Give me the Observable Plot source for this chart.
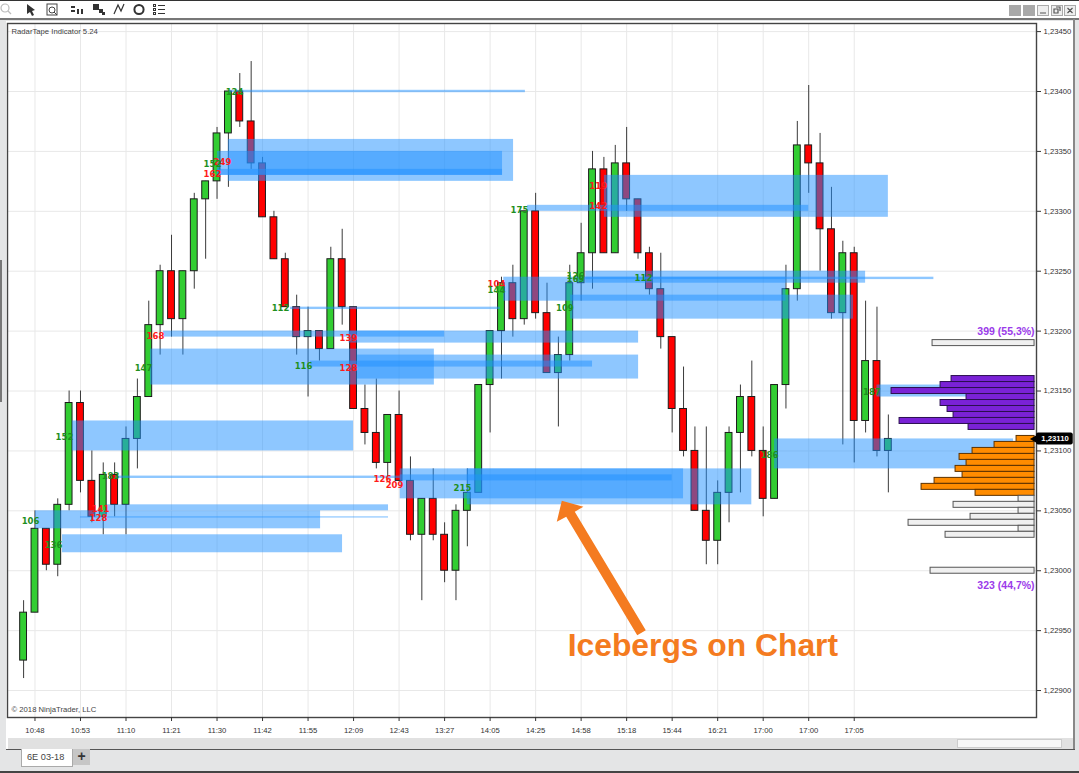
<!DOCTYPE html>
<html>
<head>
<meta charset="utf-8">
<script src="https://cdn.jsdelivr.net/npm/d3@7"></script>
<script src="https://cdn.jsdelivr.net/npm/@observablehq/plot@0.6"></script>
<style>
html,body{margin:0;padding:0;background:#e4e5e6;overflow:hidden}
#page{position:relative;width:1079px;height:773px;overflow:hidden;font-family:"Liberation Sans",Arial,sans-serif}
#page>div,#page>svg.chrome{position:absolute}
#chart{position:absolute;left:0;top:0}
</style>
</head>
<body>
<div id="page">
  <div style="left:0;top:0;width:1079px;height:1px;background:#333"></div>
  <div style="left:0;top:1px;width:1079px;height:17px;background:#fff"></div>
  <div style="left:0;top:18px;width:1079px;height:2px;background:#777"></div>
  <div style="left:0;top:260px;width:2px;height:142px;background:#777"></div>
  <div style="left:6px;top:21px;width:1067px;height:728px;background:#fff"></div>
  <div style="left:1073px;top:19px;width:2px;height:731px;background:#888"></div>
  <div style="left:8px;top:738px;width:1065px;height:11px;background:#e1e1e1"></div>
  <div style="left:957px;top:739px;width:105px;height:9px;background:#f7f7f7;border:1px solid #ccc;box-sizing:border-box"></div>
  <div style="left:6px;top:749px;width:1069px;height:1px;background:#555"></div>
  <div style="left:21px;top:749px;width:52px;height:18px;background:#fff;border:1px solid #aaa;border-top:none;box-sizing:border-box;font-size:9.2px;color:#444;line-height:17px;padding-left:5px">6E 03-18</div>
  <div style="left:73px;top:749px;width:17px;height:16px;background:#c6c6c6;font-size:14px;font-weight:bold;color:#333;text-align:center;line-height:15px">+</div>
  <div style="left:0;top:771px;width:1079px;height:2px;background:#444"></div>
  <svg class="chrome" style="left:0;top:0" width="1079" height="18" viewBox="0 0 1079 18">
    <g fill="none" stroke="#bbb" stroke-width="1.2"><circle cx="5" cy="8" r="4"/><path d="M8 11l3 3"/></g>
    <path d="M27 4l0 10 3-2 2 4 2-1-2-4 3-1z" fill="#333"/>
    <g fill="none" stroke="#444"><rect x="47" y="4" width="10" height="11"/><circle cx="52" cy="10" r="3"/><path d="M54 12l3 3"/></g>
    <g fill="#333"><rect x="71" y="6" width="4" height="2"/><rect x="71" y="10" width="4" height="2"/><rect x="77" y="9" width="2" height="5"/><rect x="81" y="9" width="2" height="5"/></g>
    <g fill="#333"><rect x="93" y="4" width="6" height="6"/><rect x="99" y="9" width="4" height="4"/><rect x="102" y="12" width="3" height="3"/></g>
    <g fill="none" stroke="#333" stroke-width="1.2"><path d="M114 14l4-9 3 6 3-7"/></g>
    <circle cx="139" cy="9.5" r="4.6" fill="none" stroke="#333" stroke-width="2"/>
    <g fill="none" stroke="#333"><rect x="153.5" y="4.5" width="2" height="2"/><rect x="153.5" y="8.5" width="2" height="2"/><rect x="153.5" y="12.5" width="2" height="2"/><path d="M158 5.5h7M158 9.5h7M158 13.5h7"/></g>
    <rect x="1009" y="5" width="12" height="11" fill="#a9a9a9"/>
    <rect x="1023" y="5" width="12" height="11" fill="#a9a9a9"/>
    <g fill="#eee" stroke="#aaa"><rect x="1037.5" y="5.5" width="11" height="10"/><rect x="1051.5" y="5.5" width="11" height="10"/><rect x="1064.5" y="5.5" width="11" height="10"/></g>
    <g fill="none" stroke="#555" stroke-width="1.2"><path d="M1040 13h6M1054 9h4v4h-4zM1056 7h4v4M1067.5 8l5 5M1072.5 8l-5 5"/></g>
  </svg>
  <div id="chart"></div>
</div>
<script>
// Candles
const opens = [1.22925,1.22965,1.23035,1.23005,1.23055,1.2314,1.23075,1.23045,1.2308,1.23055,1.2311,1.23145,1.23205,1.2325,1.2321,1.2325,1.2331,1.23325,1.23365,1.234,1.23375,1.2334,1.23295,1.2326,1.2322,1.23195,1.232,1.23185,1.2326,1.2322,1.23135,1.23115,1.2309,1.2313,1.23075,1.2303,1.2306,1.2303,1.23,1.2305,1.23065,1.23155,1.232,1.2324,1.2321,1.233,1.23215,1.23165,1.2318,1.2324,1.23265,1.23335,1.23265,1.2334,1.2331,1.23265,1.23235,1.23195,1.23135,1.231,1.2305,1.23025,1.23065,1.23115,1.23145,1.231,1.2306,1.23155,1.23235,1.23355,1.2334,1.23285,1.23215,1.23265,1.23125,1.23175,1.231];
const highs = [1.22975,1.2305,1.23035,1.2306,1.2315,1.2315,1.231,1.2309,1.2309,1.2312,1.2316,1.23225,1.23255,1.2328,1.2325,1.23315,1.23325,1.2337,1.234,1.23415,1.23425,1.23345,1.233,1.23265,1.2323,1.2322,1.232,1.2327,1.23285,1.2322,1.23155,1.2316,1.2313,1.2315,1.23095,1.2306,1.23085,1.2304,1.23055,1.23085,1.23155,1.232,1.23245,1.23255,1.233,1.23315,1.2324,1.23195,1.23255,1.2329,1.2335,1.23345,1.23355,1.2337,1.2331,1.2327,1.23265,1.23195,1.2317,1.2312,1.2312,1.23075,1.2312,1.23155,1.23175,1.2312,1.23155,1.23255,1.23375,1.23405,1.23365,1.2332,1.23275,1.2327,1.23225,1.2322,1.2313];
const lows = [1.2291,1.22965,1.23,1.22995,1.2305,1.23065,1.2304,1.2303,1.23045,1.2303,1.23085,1.23145,1.2318,1.23195,1.2318,1.23235,1.2326,1.2331,1.2332,1.2337,1.23335,1.23295,1.2326,1.2322,1.2318,1.23145,1.23175,1.23185,1.23205,1.23135,1.23105,1.23085,1.23075,1.23075,1.23025,1.22975,1.23025,1.2299,1.22975,1.2302,1.23065,1.23115,1.2316,1.23195,1.23205,1.2321,1.23165,1.2312,1.23175,1.23225,1.23235,1.23265,1.23265,1.233,1.2326,1.2323,1.23185,1.23115,1.23095,1.2305,1.23005,1.23005,1.2304,1.23065,1.23095,1.23045,1.2306,1.23135,1.23225,1.23315,1.2325,1.2321,1.23105,1.2309,1.23115,1.23095,1.23065];
const closes = [1.22965,1.23035,1.23005,1.23055,1.2314,1.23075,1.23045,1.2308,1.23055,1.2311,1.23145,1.23205,1.2325,1.2321,1.2325,1.2331,1.23325,1.23365,1.234,1.23375,1.2334,1.23295,1.2326,1.2322,1.23195,1.232,1.23185,1.2326,1.2322,1.23135,1.23115,1.2309,1.2313,1.23075,1.2303,1.2306,1.2303,1.23,1.2305,1.23065,1.23155,1.232,1.2324,1.2321,1.233,1.23215,1.23165,1.2318,1.2324,1.23265,1.23335,1.23265,1.2334,1.2331,1.23265,1.23235,1.23195,1.23135,1.231,1.2305,1.23025,1.23065,1.23115,1.23145,1.231,1.2306,1.23155,1.23235,1.23355,1.2334,1.23285,1.23215,1.23265,1.23125,1.23175,1.231,1.2311];

// Axis labels
const timeLabels = ["10:48","10:53","11:10","11:21","11:30","11:42","11:55","12:09","12:43","13:27","14:05","14:25","14:58","15:18","15:44","16:21","17:00","17:00","17:05"];
const priceTicks = [1.229,1.2295,1.23,1.2305,1.231,1.2315,1.232,1.2325,1.233,1.2335,1.234,1.2345];

// Iceberg zones (bar index range, price range)
const zoneStart = [18,17.04,17.04,18,12.3,28.6,11.15,29.35,25.2,4.3,8.08,33.1,39,33.1,1.05,7.37,5,3.42,51.05,44.3,42.2,48.07,49.4,49.4,23.46,66,75];
const zoneEnd = [43.06,42.09,42.09,44.1,37,54.05,36.1,54.05,50,29,33.1,58,64,57,26.1,32.07,32.07,28.03,76,69,67,72.94,74,80,41.9,87,82.9];
const zoneTop = [1.2336,1.2335,1.23335,1.23401,1.232,1.232,1.23185,1.2318,1.23175,1.23125,1.23079,1.23085,1.23085,1.2308,1.2305,1.23055,1.23045,1.2303,1.2333,1.23305,1.23245,1.2323,1.2325,1.23245,1.2322,1.2311,1.23155];
const zoneBottom = [1.23325,1.2333,1.2333,1.23399,1.23195,1.2319,1.23155,1.2316,1.2317,1.231,1.23077,1.2306,1.23055,1.23075,1.23035,1.2305,1.23044,1.23015,1.23295,1.233,1.23225,1.2321,1.2324,1.23243,1.23218,1.23085,1.23145];

// Volume profile
const profilePrices = [1.2319,1.2316,1.23155,1.2315,1.23145,1.2314,1.23135,1.2313,1.23125,1.2312,1.2311,1.23105,1.231,1.23095,1.2309,1.23085,1.2308,1.23075,1.2307,1.23065,1.2306,1.23055,1.2305,1.23045,1.2304,1.23035,1.2303,1.23];
const profileVolumes = [102,83,94,143,68,94,87,81,135,66,18,40,62,75,68,79,72,100,113,59,16,81,16,64,126,16,89,104];
const profileGroups = ["w","p","p","p","p","p","p","p","p","p","o","o","o","o","o","o","o","o","o","o","w","w","w","w","w","w","w","w"];

// Order labels on the chart
const labelTexts = ["249","152","162","124","112","168","147","116","139","128","152","183","141","128","106","136","126","209","215","175","104","144","126","169","109","119","142","112","186","187"];
const labelBars = [17.48,16.6,16.6,18.54,22.58,11.59,10.54,24.6,28.55,28.55,3.59,7.64,6.76,6.58,0.61,2.63,31.54,32.6,38.57,43.58,41.56,41.56,48.5,48.5,47.57,50.5,50.5,54.48,65.56,74.55];
const labelPrices = [1.23341,1.23339,1.23331,1.23399,1.23219,1.23196,1.23169,1.23171,1.23194,1.23169,1.23111,1.23079,1.23051,1.23044,1.23041,1.23021,1.23076,1.23071,1.23069,1.23301,1.23239,1.23234,1.23246,1.23243,1.23219,1.23321,1.23304,1.23244,1.23096,1.23149];
const labelColors = ["r","g","r","g","g","r","g","g","r","r","g","g","r","r","g","g","r","r","g","g","r","g","g","g","g","r","r","g","g","g"];

// Arrow annotation outline (bar index, price)
const arrowBars = [47.3,49.2,48.44,54.68,53.93,47.69,46.86,47.3];
const arrowPrices = [1.230584,1.230534,1.230493,1.229504,1.229461,1.23045,1.230409,1.230584];

const candles = opens.map((o,i)=>({i,o,h:highs[i],l:lows[i],c:closes[i]}));
const zones = zoneStart.map((s,i)=>({s,e:zoneEnd[i],t:zoneTop[i],b:zoneBottom[i]}));
const profile = profilePrices.map((p,i)=>({p,v:profileVolumes[i],g:profileGroups[i]}));
const labels = labelTexts.map((t,i)=>({t,x:labelBars[i],y:labelPrices[i],c:labelColors[i]}));
const arrow = arrowBars.map((x,i)=>({x,y:arrowPrices[i]}));

const tickBars = timeLabels.map((_,i)=>1+4*i);
const halfBody = 0.3;
const halfTick = 0.000025;
const profileRight = 88.85;
const pxPerBar = 11.378;
const profileFill = {p:"#7a22d6",o:"#ff8c00",w:"#f0f0f0"};
const profileStroke = {p:"#2b1050",o:"#5c3200",w:"#555"};
const labelFill = {r:"#ff1a1a",g:"#1f8f1f"};
const uiFont = '"Liberation Sans",Arial,sans-serif';
const tagFont = '"DejaVu Sans",sans-serif';
const fmt = d => d.toFixed(5).replace(".",",");

const plot = Plot.plot({
  width:1079,height:773,
  marginLeft:7,marginRight:43,marginTop:23,marginBottom:56,
  style:{background:"transparent",fontFamily:uiFont,fontSize:"7.7px",color:"#333"},
  x:{domain:[-1.415,89.02],label:null},
  y:{domain:[1.228775,1.2345676],label:null},
  marks:[
    Plot.gridX(tickBars,{stroke:"#e8e8e8",strokeOpacity:1}),
    Plot.gridY(priceTicks,{stroke:"#e8e8e8",strokeOpacity:1}),
    Plot.ruleX(candles,{x:"i",y1:"l",y2:"h",stroke:"#3a3a3a",strokeWidth:1}),
    Plot.rect(candles,{x1:d=>d.i-halfBody,x2:d=>d.i+halfBody,y1:"o",y2:"c",
      fill:d=>d.c>=d.o?"#32cd32":"#ff0000",stroke:"#1c1c1c",strokeWidth:1}),
    Plot.rect(zones,{x1:"s",x2:"e",y1:"b",y2:"t",fill:"#1e90ff",fillOpacity:0.5}),
    Plot.rect(profile,{x1:d=>profileRight-d.v/pxPerBar,x2:profileRight,
      y1:d=>d.p-halfTick,y2:d=>d.p+halfTick,
      fill:d=>profileFill[d.g],stroke:d=>profileStroke[d.g],strokeWidth:1}),
    Plot.line(arrow,{x:"x",y:"y",fill:"#f47b20",stroke:"none"}),
    Plot.text(labels,{x:"x",y:"y",text:"t",fill:d=>labelFill[d.c],
      fontFamily:tagFont,fontWeight:"bold",fontSize:8.5}),
    Plot.text(["399 (55,3%)"],{x:[profileRight],y:[1.231995],textAnchor:"end",fill:"#9b3bea",
      fontFamily:uiFont,fontWeight:"bold",fontSize:10.5}),
    Plot.text(["323 (44,7%)"],{x:[profileRight],y:[1.229875],textAnchor:"end",fill:"#9b3bea",
      fontFamily:uiFont,fontWeight:"bold",fontSize:10.5}),
    Plot.text(["Icebergs on Chart"],{x:[59.7],y:[1.22937],fill:"#f47b20",
      fontFamily:uiFont,fontWeight:"bold",fontSize:31.8}),
    Plot.text(["RadarTape Indicator 5.24"],{frameAnchor:"top-left",dx:4,dy:5,fill:"#444",fontFamily:uiFont,fontSize:7.7}),
    Plot.text(["© 2018 NinjaTrader, LLC"],{frameAnchor:"bottom-left",dx:4,dy:-6,fill:"#444",fontFamily:uiFont,fontSize:7.7}),
    Plot.frame({stroke:"#444",strokeWidth:1.4}),
    Plot.axisX({ticks:tickBars,tickFormat:d=>timeLabels[(d-1)/4],tickSize:4,tickPadding:6,stroke:"#333",fontSize:7.7,fill:"#333"}),
    Plot.axisY({anchor:"right",ticks:priceTicks,tickFormat:fmt,tickSize:4,tickPadding:3,fontSize:7.7,fill:"#333"}),
    Plot.dot([1.2311],{x:[88.85],y:d=>d,symbol:"triangle",r:3,rotate:-90,fill:"#000"}),
    Plot.rect([1.2311],{x1:[89.02],x2:[92.25],y1:d=>d-0.00005,y2:d=>d+0.00005,fill:"#000",rx:2}),
    Plot.text(["1,23110"],{x:[90.65],y:[1.2311],fill:"#fff",fontFamily:uiFont,fontWeight:"bold",fontSize:7.7})
  ]
});
document.getElementById("chart").appendChild(plot);
</script>
</body>
</html>
